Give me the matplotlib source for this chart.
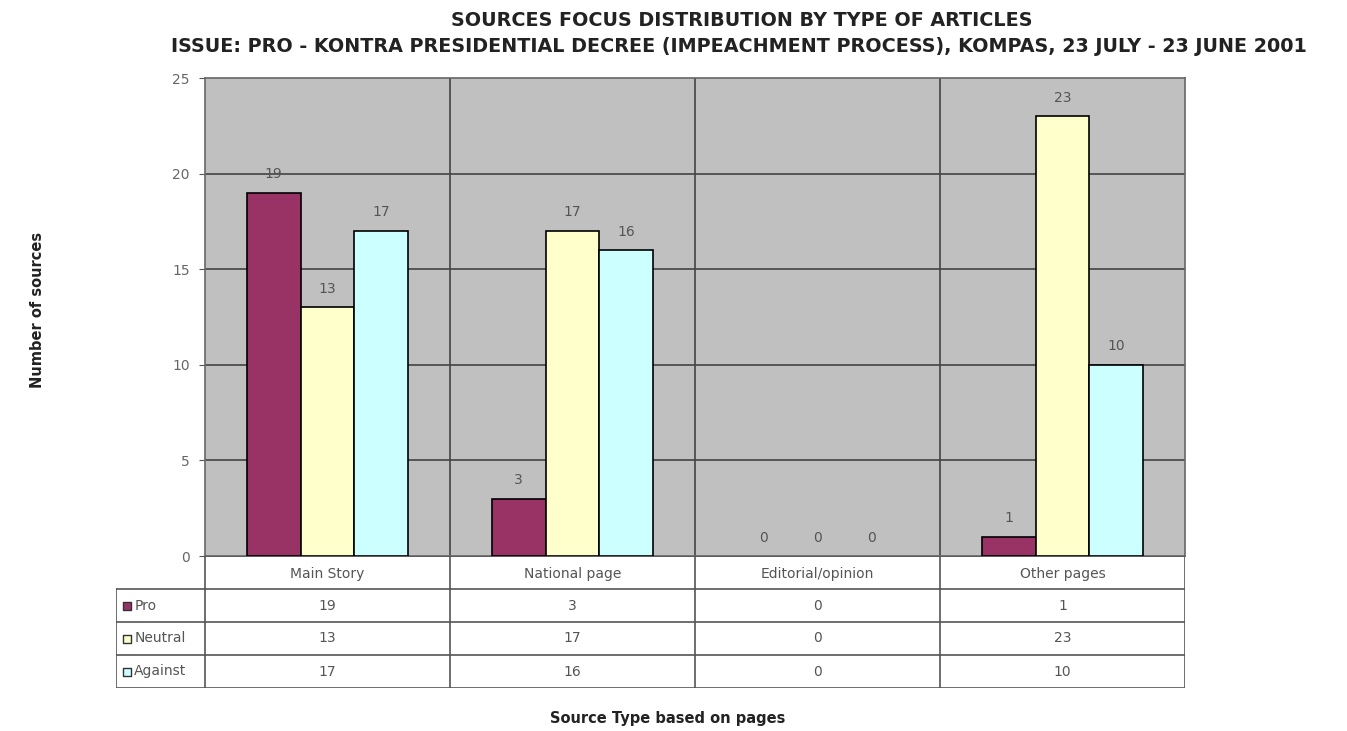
import matplotlib
matplotlib.use("Agg")
import matplotlib.pyplot as plt
import numpy as np

plt.rcParams['font.family'] = ['DejaVu Sans']

categories = ["Main Story", "National page", "Editorial/opinion", "Other pages"]
series_names = ["Pro", "Neutral", "Against"]
pro = [19, 3, 0, 1]
neutral = [13, 17, 0, 23]
against = [17, 16, 0, 10]
colors = ["#993366", "#FFFFCC", "#CCFFFF"]

title1 = "SOURCES FOCUS DISTRIBUTION BY TYPE OF ARTICLES"
title2 = "ISSUE: PRO - KONTRA PRESIDENTIAL DECREE (IMPEACHMENT PROCESS), KOMPAS, 23 JULY - 23 JUNE 2001"

W, H = 1347, 731
fig = plt.figure(figsize=(W / 100, H / 100), dpi=100)

# plot area
pl, pr, pt, pb = 205, 1185, 78, 556
ax = fig.add_axes([pl / W, 1 - pb / H, (pr - pl) / W, (pb - pt) / H])
ax.set_facecolor("#C0C0C0")
ax.set_xlim(0, 4)
ax.set_ylim(0, 25)

x = np.arange(len(categories)) + 0.5
bw = 0.22
data = [pro, neutral, against]
for i, vals in enumerate(data):
    xs = x + (i - 1) * bw
    lws = [1.2 if v > 0 else 0 for v in vals]
    ax.bar(xs, vals, width=bw, color=colors[i], edgecolor="black", linewidth=lws, zorder=3)
    for xx, v in zip(xs, vals):
        ax.text(xx, v + 0.6, str(v), ha="center", va="bottom", fontsize=10, color="#555555", zorder=4)

for yv in range(5, 25, 5):
    ax.axhline(yv, color="#444444", linewidth=1.2, zorder=1)
for xv in range(1, 4):
    ax.axvline(xv, color="#444444", linewidth=1.2, zorder=1)

ax.set_yticks(range(0, 26, 5))
ax.set_yticklabels([str(v) for v in range(0, 26, 5)], fontsize=10, color="#666666")
ax.tick_params(axis="y", length=4, direction="out", color="#555555", pad=7)
ax.set_xticks([])
for s in ax.spines.values():
    s.set_color("#666666")
    s.set_linewidth(1.2)

# data table below plot
tl, tb = 116, 688
tab = fig.add_axes([tl / W, 1 - tb / H, (pr - tl) / W, (tb - pb) / H])
xl = -(pl - tl) / ((pr - pl) / 4)
tab.set_xlim(xl, 4)
tab.set_ylim(4, 0)
tab.axis("off")
lc = "#555555"
lw = 1.2
tab.plot([0, 4], [0, 0], color=lc, lw=lw)
for r in range(1, 5):
    tab.plot([xl, 4], [r, r], color=lc, lw=lw)
tab.plot([xl, xl], [1, 4], color=lc, lw=lw)
for c in range(0, 5):
    tab.plot([c, c], [0, 4], color=lc, lw=lw)

for j, cat in enumerate(categories):
    tab.text(j + 0.5, 0.55, cat, ha="center", va="center", fontsize=10, color="#555555")
for i, (name, vals) in enumerate(zip(series_names, data)):
    tab.scatter([xl + 0.045], [i + 1.5], marker="s", s=30, color=colors[i], edgecolors="#333333", linewidths=1, clip_on=False)
    tab.text(xl + 0.075, i + 1.5, name, ha="left", va="center", fontsize=10, color="#555555")
    for j, v in enumerate(vals):
        tab.text(j + 0.5, i + 1.5, str(v), ha="center", va="center", fontsize=10, color="#555555")

fig.text(742 / W, 1 - 20 / H, title1, ha="center", va="center", fontsize=13.8, fontweight="bold", color="#222222")
fig.text(739 / W, 1 - 46 / H, title2, ha="center", va="center", fontsize=13.8, fontweight="bold", color="#222222")
fig.text(38 / W, 1 - 310 / H, "Number of sources", ha="center", va="center", rotation=90, fontsize=10.5, fontweight="bold", color="#222222")
fig.text(668 / W, 1 - 718 / H, "Source Type based on pages", ha="center", va="center", fontsize=10.5, fontweight="bold", color="#222222")

fig.savefig("out.png", dpi=100, facecolor="white")
